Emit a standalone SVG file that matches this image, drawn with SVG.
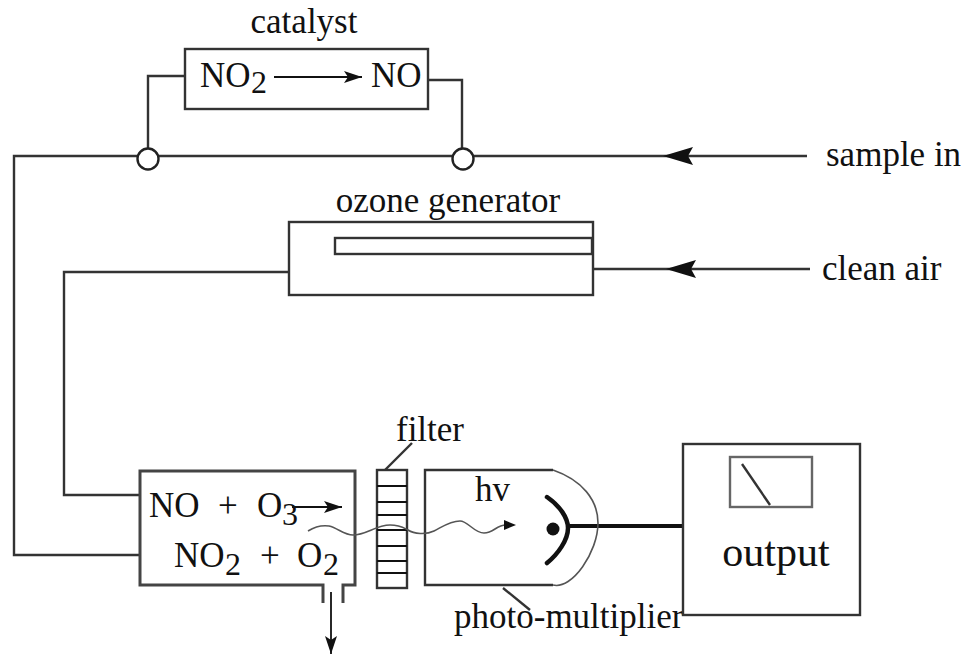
<svg xmlns="http://www.w3.org/2000/svg" width="964" height="655" viewBox="0 0 964 655">
<style>
text{font-family:"Liberation Serif","Times New Roman",serif;fill:#111}
.l{font-size:35px}.m{font-size:35px}.b{font-size:32px}
.s{fill:none;stroke:#333;stroke-width:2.4}
.t{fill:none;stroke:#111;stroke-width:1.8}
.g{fill:none;stroke:#555;stroke-width:1.6}
.h{fill:#111}
</style>
<defs>
<marker id="a" markerUnits="userSpaceOnUse" markerWidth="20" markerHeight="14" refX="18" refY="6" orient="auto"><path d="M0 0L18 6L0 12L4 6Z" fill="#111"/></marker>
</defs>
<g id="connectors">
<path class="s" d="M148 156V76H185"/>
<path class="s" d="M428 80H462V156"/>
<path class="s" d="M807 156H14V555H139"/>
<path class="s" d="M810 269H593"/>
<path class="s" d="M289 272H64V495H139"/>
<path class="h" d="M663 156L693 147L688 156L693 165Z"/>
<path class="h" d="M666 269L696 260L691 269L696 278Z"/>
<path class="t" d="M331 592V654" marker-end="url(#a)"/>
<path d="M570 526H683" fill="none" stroke="#111" stroke-width="4"/>
</g>
<g id="catalyst">
<text class="l" x="304" y="33" text-anchor="middle">catalyst</text>
<rect class="s" x="185" y="49" width="243" height="60"/>
<text class="m" x="200" y="87">NO</text>
<text class="b" x="251" y="93">2</text>
<path class="t" d="M274 77H362" marker-end="url(#a)"/>
<text class="m" x="371" y="87">NO</text>
</g>
<g id="junction-left"><circle cx="148" cy="159" r="10.500" fill="#fff" stroke="#222" stroke-width="2.400"/></g>
<g id="junction-right"><circle cx="463" cy="159" r="10.500" fill="#fff" stroke="#222" stroke-width="2.400"/></g>
<g id="ozone-generator">
<text class="l" x="448" y="212" text-anchor="middle">ozone generator</text>
<rect class="s" x="289" y="222" width="304" height="73"/>
<rect class="s" x="335" y="238" width="257" height="16"/>
</g>
<g id="sample-in"><text class="l" x="826" y="166">sample in</text></g>
<g id="clean-air"><text class="l" x="822" y="280">clean air</text></g>
<g id="reaction-chamber">
<path fill="none" stroke="#444" stroke-width="3" d="M323 603V585H140V471H355V585H343V603"/>
<text class="m" x="149" y="517">NO</text>
<text class="m" x="218" y="517">+</text>
<text class="m" x="257" y="517">O</text>
<text class="b" x="282" y="525">3</text>
<path class="t" d="M292 507H342" marker-end="url(#a)"/>
<text class="m" x="174" y="567">NO</text>
<text class="b" x="225" y="575">2</text>
<text class="m" x="260" y="567">+</text>
<text class="m" x="297" y="567">O</text>
<text class="b" x="323" y="575">2</text>
</g>
<g id="filter">
<text class="l" x="430" y="441" text-anchor="middle">filter</text>
<path class="s" d="M412 443L385 470"/>
<rect class="s" x="377" y="470" width="30" height="118"/>
<path class="t" d="M377 486H407M377 502H407M377 515H407M377 530H407M377 546H407M377 561H407M377 573H407"/>
</g>
<g id="photo-multiplier">
<path class="s" d="M553 470H425V585H553"/>
<path class="g" d="M553 470C582 480 598 500 598 523C598 552 572 590 553 585"/>
<text class="l" x="475" y="501">hv</text>
<path d="M547 497C560 506 568 518 568 528C568 540 558 554 547 563" fill="none" stroke="#111" stroke-width="4.500" stroke-linecap="round"/>
<circle cx="553" cy="529" r="6.500" fill="#111"/>
<path class="s" d="M503 588L530 610"/>
<text class="l" x="454" y="628">photo-multiplier</text>
</g>
<g id="light-path"><path class="g" d="M308 531C316 526 322 525 329 526C338 528 344 535 353 535C366 535 376 525 390 525C400 525 404 528 408 530C414 534 426 535 434 531C442 527 450 521 460 521C468 521 474 533 484 533C494 533 496 525 506 525"/><path class="h" d="M504 520L516 525L504 530Z"/></g>
<g id="output">
<rect class="s" x="683" y="444" width="177" height="171"/>
<rect x="730" y="457" width="82" height="50" fill="none" stroke="#666" stroke-width="2.400"/>
<path class="s" d="M742 464L770 505"/>
<text x="776" y="566" text-anchor="middle" font-size="42">output</text>
</g>
</svg>
